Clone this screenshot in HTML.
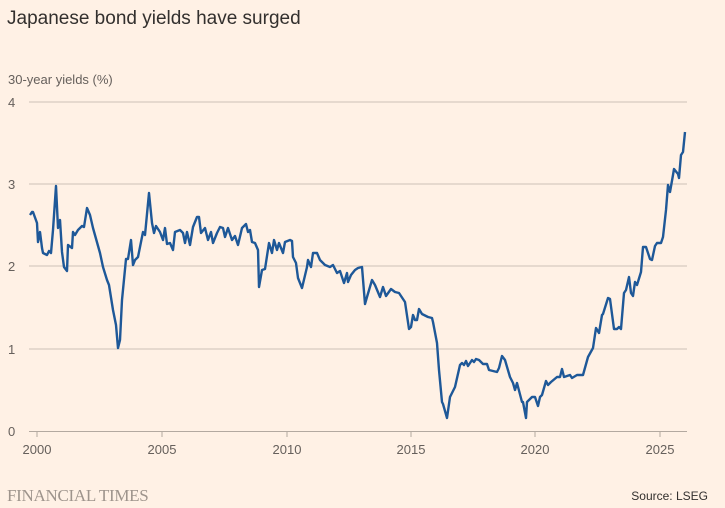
<!DOCTYPE html>
<html><head><meta charset="utf-8"><style>
html,body{margin:0;padding:0;background:#fff1e5;}
svg{display:block;}
text{font-family:"Liberation Sans",sans-serif;}
text.ft{font-family:"Liberation Serif",serif;}
</style></head><body>
<svg width="725" height="508" viewBox="0 0 725 508" xmlns="http://www.w3.org/2000/svg">
<rect width="725" height="508" fill="#fff1e5"/>
<text x="7" y="24" font-size="19" fill="#33302e">Japanese bond yields have surged</text>
<text x="8" y="84" font-size="13" fill="#66605c">30-year yields (%)</text>
<g stroke="#ccc1b7" stroke-width="1">
<line x1="29" y1="102" x2="687" y2="102"/>
<line x1="29" y1="184" x2="687" y2="184"/>
<line x1="29" y1="266" x2="687" y2="266"/>
<line x1="29" y1="349" x2="687" y2="349"/>
</g>
<line x1="29" y1="431.5" x2="687" y2="431.5" stroke="#b3a9a0" stroke-width="1"/>
<g stroke="#b3a9a0" stroke-width="1">
<line x1="37" y1="431" x2="37" y2="437"/>
<line x1="162" y1="431" x2="162" y2="437"/>
<line x1="287" y1="431" x2="287" y2="437"/>
<line x1="411" y1="431" x2="411" y2="437"/>
<line x1="535" y1="431" x2="535" y2="437"/>
<line x1="660" y1="431" x2="660" y2="437"/>
</g>
<g font-size="13" fill="#66605c">
<text x="8" y="107">4</text>
<text x="8" y="189">3</text>
<text x="8" y="271">2</text>
<text x="8" y="354">1</text>
<text x="8" y="436">0</text>
</g>
<g font-size="13" fill="#66605c" text-anchor="middle">
<text x="37" y="454">2000</text>
<text x="162" y="454">2005</text>
<text x="287" y="454">2010</text>
<text x="411" y="454">2015</text>
<text x="535" y="454">2020</text>
<text x="660" y="454">2025</text>
</g>
<polyline fill="none" stroke="#1e5898" stroke-width="2.4" stroke-linejoin="round" points="
30,215 32,212 33,212 37,223 38,242 40,232 42,248 43,253 47,255 49,251 51,253 53,230 56,186 58,228 60,220 62,252 64,267 67,271 68,245 72,248 73,232 75,235 78,230 82,226 84,227 87,208 90,215 93,228 100,253 103,267 107,280 109,285 113,310 116,325 118,348 120,340 122,300 126,259 128,259 131,240 133,265 135,260 138,257 143,232 145,235 149,193 152,223 154,233 156,226 160,232 163,240 165,228 167,244 170,243 173,250 175,232 180,230 183,233 185,243 187,232 190,245 193,227 197,217 199,217 201,233 205,228 208,240 211,232 213,243 217,233 220,227 223,228 225,237 228,228 232,240 235,236 238,245 242,228 246,224 248,232 250,230 252,242 255,243 258,250 259,287 262,270 265,269 269,243 272,253 274,240 277,250 279,243 283,253 285,242 290,240 292,241 293,257 296,263 298,278 302,288 307,267 308,260 311,267 313,253 317,253 320,260 325,265 330,267 333,265 337,273 340,271 344,283 347,273 348,282 351,275 355,270 358,268 362,267 365,304 367,297 372,280 375,285 380,297 383,287 386,296 391,289 395,292 399,293 405,302 409,329 411,327 413,315 415,320 417,320 419,309 422,314 428,317 432,318 433,322 437,343 439,370 442,402 443,404 447,418 450,397 455,387 460,365 462,363 464,365 466,361 468,366 472,360 474,362 476,359 479,360 483,364 487,364 489,370 493,371 497,372 499,368 502,356 505,360 510,377 513,383 515,390 517,383 522,402 523,402 526,418 527,402 532,397 535,397 538,406 540,397 542,395 546,381 548,385 551,382 557,377 560,377 562,369 564,377 570,375 572,378 577,375 583,375 588,357 593,348 596,328 599,333 602,315 603,314 608,298 610,299 614,329 617,329 619,327 621,329 624,293 626,290 629,277 631,293 633,296 635,282 637,285 641,272 643,247 646,247 650,259 652,260 655,246 657,243 661,243 663,237 666,210 668,185 670,192 673,175 674,169 678,174 679,178 681,155 683,152 685,132"/>
<text class="ft" x="7" y="501" style="font-family:'Liberation Serif',serif" font-size="17" fill="#9e948c" letter-spacing="-0.3">FINANCIAL TIMES</text>
<text x="708" y="500" font-size="12" fill="#33302e" text-anchor="end">Source: LSEG</text>
</svg>
</body></html>
